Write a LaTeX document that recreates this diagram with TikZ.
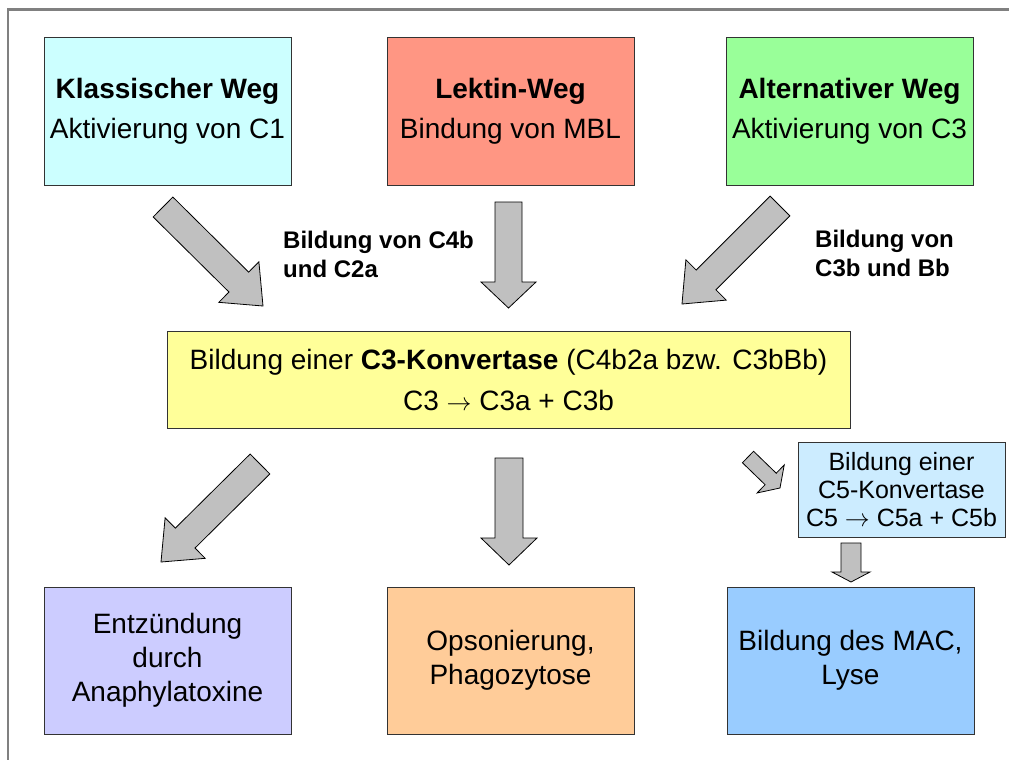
\documentclass[tikz,border=0pt]{standalone}
\usepackage{fontspec}
\setmainfont{Liberation Sans}
\usetikzlibrary{calc}
\definecolor{klassfarbe}{HTML}{CCFFFF}
\definecolor{lektinfarbe}{HTML}{FF9683}
\definecolor{alternfarbe}{HTML}{99FF99}
\definecolor{konvfarbe}{HTML}{FFFF99}
\definecolor{cfuenffarbe}{HTML}{CCECFF}
\definecolor{entzfarbe}{HTML}{CCCCFF}
\definecolor{opsofarbe}{HTML}{FFCC99}
\definecolor{macfarbe}{HTML}{99CCFF}
\definecolor{pfeilgrau}{HTML}{C0C0C0}
\newcommand\fatarrow[5]{%
  \coordinate (hals) at ($(#2)!#5!(#1)$);
  \filldraw[dickpfeil] ($(#1)!#3!90:(#2)$) -- ($(hals)!#3!90:(#2)$) -- ($(hals)!#4!90:(#2)$)
    -- (#2) -- ($(hals)!#4!-90:(#2)$) -- ($(hals)!#3!-90:(#2)$) -- ($(#1)!#3!-90:(#2)$) -- cycle;}
\newcommand\pf{\(\rightarrow\)}
\begin{document}
\begin{tikzpicture}[x=1pt,y=-1pt,
    kasten/.style={draw=black!80, line width=1pt, align=center, inner sep=0pt,
      minimum width=247pt, minimum height=147pt, font=\fontsize{28}{40}\selectfont},
    unten/.style={kasten, font=\fontsize{28}{34}\selectfont},
    beschriftung/.style={anchor=west, align=left, inner sep=0pt, font=\bfseries\fontsize{24}{29}\selectfont},
    dickpfeil/.style={fill=pfeilgrau, draw=black, line width=0.8pt, line join=miter},
    rahmen/.style={draw=black!50, line width=2.5pt}]
  \useasboundingbox (0,0) rectangle (1009,760);
  \draw[rahmen] (8,760) -- (8,9.5) -- (1009,9.5);

  \node[kasten, fill=klassfarbe] (klass) at (167.5,111.5) {\textbf{Klassischer Weg}\\Aktivierung von C1};
  \node[kasten, fill=lektinfarbe] (lektin) at (510.5,111.5) {\textbf{Lektin-Weg}\\Bindung von MBL};
  \node[kasten, fill=alternfarbe] (altern) at (849.5,111.5) {\textbf{Alternativer Weg}\\Aktivierung von C3};

  \node[kasten, fill=konvfarbe, minimum width=683pt, minimum height=97pt, font=\fontsize{28}{41}\selectfont] (konv) at (508.5,379.5)
    {Bildung einer \textbf{C3-Konvertase} (C4b2a bzw. C3bBb)\\C3 \pf{} C3a + C3b};

  \node[kasten, fill=cfuenffarbe, minimum width=207pt, minimum height=95pt, font=\fontsize{25}{28}\selectfont] (cfuenf) at (901.5,489.5)
    {Bildung einer\\C5-Konvertase\\C5 \pf{} C5a + C5b};

  \node[unten, fill=entzfarbe] (entz) at (167.5,660.5) {Entzündung\\durch\\Anaphylatoxine};
  \node[unten, fill=opsofarbe] (opso) at (510.5,660.5) {Opsonierung,\\Phagozytose};
  \node[unten, fill=macfarbe] (mac) at (850.5,660.5) {Bildung des MAC,\\Lyse};

  \node[beschriftung] (lbl1) at (283,254) {Bildung von C4b\\und C2a};
  \node[beschriftung] (lbl2) at (815,253) {Bildung von\\C3b und Bb};

  \coordinate (p1a) at (163,207);   \coordinate (p1b) at (263,306);
  \coordinate (p2a) at (508.5,202); \coordinate (p2b) at (508.5,308);
  \coordinate (p3a) at (780,206);   \coordinate (p3b) at (682,304);
  \coordinate (p4a) at (260,464);   \coordinate (p4b) at (161,562);
  \coordinate (p5a) at (509,458);   \coordinate (p5b) at (509,565);
  \coordinate (p6a) at (748,457);   \coordinate (p6b) at (780,488);
  \coordinate (p7a) at (851,543);   \coordinate (p7b) at (851,582);

  \fatarrow{p1a}{p1b}{14pt}{28.5pt}{34pt}
  \fatarrow{p2a}{p2b}{13.5pt}{27.5pt}{26pt}
  \fatarrow{p3a}{p3b}{14pt}{28.5pt}{34pt}
  \fatarrow{p4a}{p4b}{14pt}{28.5pt}{34pt}
  \fatarrow{p5a}{p5b}{14pt}{28pt}{27pt}
  \fatarrow{p6a}{p6b}{8pt}{19.5pt}{13pt}
  \fatarrow{p7a}{p7b}{10pt}{19pt}{10pt}
\end{tikzpicture}
\end{document}
